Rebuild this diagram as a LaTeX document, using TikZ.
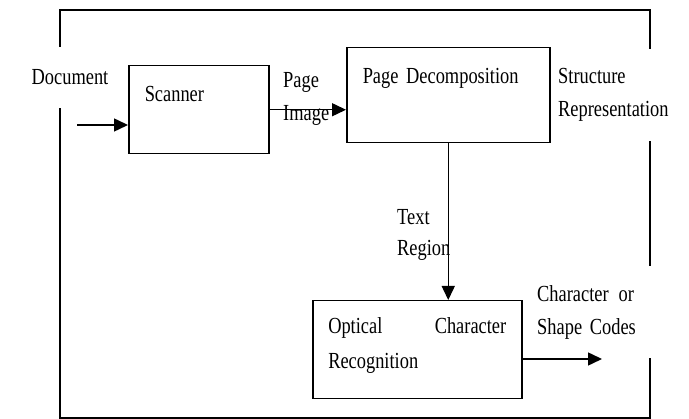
\documentclass[tikz,border=0pt]{standalone}
\usepackage{fontspec}
\setmainfont{Liberation Serif}[FakeStretch=0.8]
\usetikzlibrary{positioning,arrows.meta}
\newcommand{\tightspace}{\spaceskip=4pt plus 1pt\relax}

\begin{document}
\begin{tikzpicture}[
  x=1pt, y=-1pt,
  font=\fontsize{23}{33}\selectfont\tightspace,
  outer/.style={draw=black, line width=1.6pt},
  blk/.style={draw=black, line width=1.5pt, anchor=north west, align=left,
              inner xsep=16pt, inner ysep=0pt, text height=36pt},
  lbl/.style={align=left, inner sep=2pt},
  gaplbl/.style={lbl, fill=white},
  ar/.style={-{Triangle[length=14pt,width=13pt]}, line width=1.5pt},
]
\useasboundingbox (0,0) rectangle (689,419);
\draw[outer] (60,10) rectangle (650,418);

\node[gaplbl, minimum height=61pt] (doc) at (70,77.5) {Document};
\node[gaplbl, anchor=west, inner xsep=3pt, text width=120pt, minimum height=92pt] (struct) at (555,95) {Structure\\Representation};
\node[gaplbl, anchor=west, inner xsep=3pt, text width=116pt, minimum height=92pt] (codelbl) at (534,312) {Character\hspace{10pt}or\\Shape Codes};

\node[blk, text width=108pt, text depth=52pt] (scan) at (128,65) {Scanner};
\node[blk, text width=171pt, text depth=59pt] (pd) at (346,47) {Page Decomposition};
\node[blk, text width=178pt, inner xsep=15.5pt, text height=33pt, text depth=65pt,
      font=\fontsize{23}{35}\selectfont] (ocr) at (312,300) {Optical\hfill Character\\Recognition};

\node[lbl, anchor=west] (pimg) at (281,99) {Page\\Image};
\node[lbl, anchor=west, font=\fontsize{23}{31}\selectfont] (treg) at (395,235) {Text\\Region};

\coordinate (docin) at (77,125);
\coordinate (codes) at (602,359);

\draw[ar] (docin) -- (docin -| scan.west);
\draw[ar] (scan.east) -- (scan.east -| pd.west);
\draw[ar] (pd.south) -- (pd.south |- ocr.north);
\draw[ar] (codes -| ocr.east) -- (codes);

\end{tikzpicture}
\end{document}
